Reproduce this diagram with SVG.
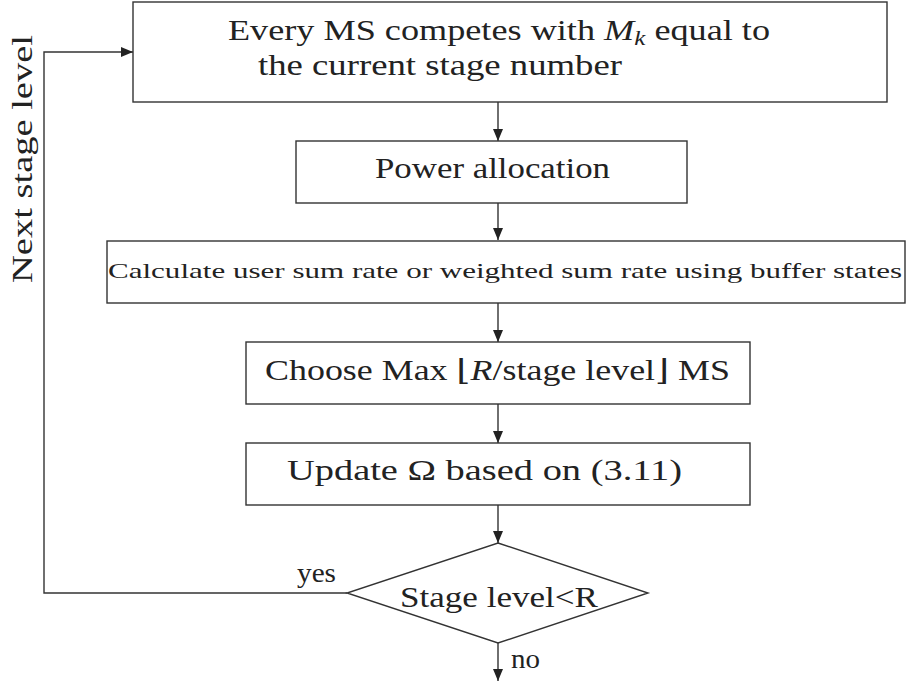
<svg xmlns="http://www.w3.org/2000/svg" width="908" height="683" viewBox="0 0 908 683">
<style>
.box{fill:#fff;stroke:#333;stroke-width:1.4}
.ln{fill:none;stroke:#333;stroke-width:1.4}
.t{font-family:"Liberation Serif","DejaVu Serif",serif;fill:#222}
.it{font-style:italic}
</style>
<defs>
<marker id="ah" viewBox="0 0 12 10" refX="12" refY="5" markerWidth="12" markerHeight="10" markerUnits="userSpaceOnUse" orient="auto">
<path d="M0,0 L12,5 L0,10 Z" fill="#222"/>
</marker>
</defs>
<rect width="908" height="683" fill="#fff"/>
<g id="connectors">
<line class="ln" x1="498" y1="102" x2="498" y2="141" marker-end="url(#ah)"/>
<line class="ln" x1="498" y1="203" x2="498" y2="240" marker-end="url(#ah)"/>
<line class="ln" x1="498" y1="303" x2="498" y2="342" marker-end="url(#ah)"/>
<line class="ln" x1="498" y1="404" x2="498" y2="443" marker-end="url(#ah)"/>
<line class="ln" x1="498" y1="505" x2="498" y2="543" marker-end="url(#ah)"/>
<line class="ln" x1="498" y1="643" x2="498" y2="681" marker-end="url(#ah)"/>
<polyline class="ln" points="347,593 44,593 44,52 133,52" marker-end="url(#ah)"/>
<text class="t" x="297" y="582" font-size="27" textLength="39" lengthAdjust="spacingAndGlyphs">yes</text>
<text class="t" x="511" y="668" font-size="27" textLength="29" lengthAdjust="spacingAndGlyphs">no</text>
<text class="t" font-size="29" transform="translate(32,283) rotate(-90)" textLength="248" lengthAdjust="spacingAndGlyphs">Next stage level</text>
</g>
<g id="n1">
<rect class="box" x="133" y="2" width="754" height="100"/>
<text class="t" x="228" y="40" font-size="29" textLength="542" lengthAdjust="spacingAndGlyphs">Every MS competes with <tspan class="it">M</tspan><tspan class="it" font-size="20" dy="5">k</tspan><tspan dy="-5"> equal to</tspan></text>
<text class="t" x="258" y="75" font-size="29" textLength="364" lengthAdjust="spacingAndGlyphs">the current stage number</text>
</g>
<g id="n2">
<rect class="box" x="296" y="141" width="391" height="62"/>
<text class="t" x="375" y="178" font-size="29" textLength="235" lengthAdjust="spacingAndGlyphs">Power allocation</text>
</g>
<g id="n3">
<rect class="box" x="107" y="241" width="798" height="62"/>
<text class="t" x="108" y="278" font-size="22" textLength="794" lengthAdjust="spacingAndGlyphs">Calculate user sum rate or weighted sum rate using buffer states</text>
</g>
<g id="n4">
<rect class="box" x="246" y="342" width="504" height="62"/>
<text class="t" x="265" y="380" font-size="29" textLength="465" lengthAdjust="spacingAndGlyphs">Choose Max ⌊<tspan class="it">R</tspan>/stage level⌋ MS</text>
</g>
<g id="n5">
<rect class="box" x="246" y="443" width="504" height="62"/>
<text class="t" x="287" y="480" font-size="29" textLength="395" lengthAdjust="spacingAndGlyphs">Update Ω based on (3.11)</text>
</g>
<g id="n6">
<polygon class="box" points="498,543 648,593 498,643 347,593"/>
<text class="t" x="400" y="607" font-size="29" textLength="198" lengthAdjust="spacingAndGlyphs">Stage level&lt;R</text>
</g>
</svg>
